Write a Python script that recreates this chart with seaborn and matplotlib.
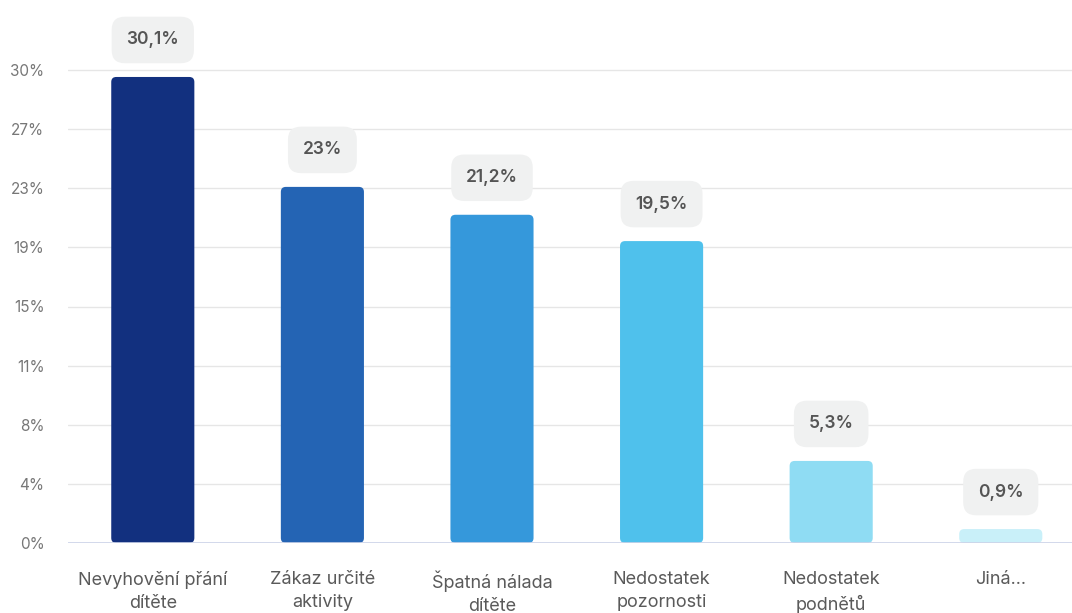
import matplotlib
matplotlib.use("Agg")
import matplotlib.pyplot as plt
import seaborn as sns
import pandas as pd
import numpy as np
from matplotlib.patches import FancyBboxPatch

categories = ["Nevyhovění přání\ndítěte", "Zákaz určité\naktivity", "Špatná nálada\ndítěte",
              "Nedostatek\npozornosti", "Nedostatek\npodnětů", "Jiná..."]
values = [30.1, 23.0, 21.2, 19.5, 5.3, 0.9]
value_labels = ["30,1%", "23%", "21,2%", "19,5%", "5,3%", "0,9%"]
y_ticklabels = ["0%", "4%", "8%", "11%", "15%", "19%", "23%", "27%", "30%"]
colors = ["#12307f", "#2464b4", "#3598db", "#4fc1ec", "#8fdcf3", "#c9f0f9"]

sns.set_theme(style="white")
plt.rcParams['font.family'] = ['Inter', 'DejaVu Sans']

fig = plt.figure(figsize=(10.72, 6.13), dpi=100)
W, H = 1072, 613
ax = fig.add_axes([68 / W, (613 - 543) / H, (1072 - 68) / W, (543 - 5) / H])

df = pd.DataFrame({"cat": categories, "val": values})
sns.barplot(data=df, x="cat", y="val", hue="cat", palette=colors, legend=False,
            width=0.49, ax=ax, saturation=1, zorder=3)

axis_max = 30.55
ymax = axis_max * (543 - 5) / (543 - 70)
ax.set_ylim(0, ymax)
ax.set_xlim(-0.5, 5.42)

# replace bars with rounded versions using their own geometry
px_per_x = (1072 - 68) / (5.42 + 0.5)
px_per_y = (543 - 5) / ymax
aspect = px_per_x / px_per_y
for p in list(ax.patches):
    x, y, w, h = p.get_x(), p.get_y(), p.get_width(), p.get_height()
    fc = p.get_facecolor()
    p.remove()
    r = 5 / px_per_x
    fb = FancyBboxPatch((x, y), w, h, boxstyle=f"round,pad=0,rounding_size={r}",
                        mutation_aspect=aspect, facecolor=fc, edgecolor="none", zorder=3)
    ax.add_patch(fb)

ticks = [axis_max * k / 8 for k in range(9)]
ax.set_yticks(ticks)
ax.set_yticklabels(y_ticklabels)
ax.yaxis.grid(True, color="#e6e6e6", linewidth=1, zorder=0)
ax.axhline(0, color="#ccd3e8", linewidth=1.2, zorder=4)
for s in ax.spines.values():
    s.set_visible(False)
ax.tick_params(axis="y", length=0, pad=17, labelsize=11, labelcolor="#777777")
ax.set_xticks(range(len(categories)))
ax.set_xticklabels(categories, multialignment="center", linespacing=1.45,
                   fontsize=13, color="#5a5a5a")
ax.tick_params(axis="x", length=0, pad=20)
ax.set_xlabel("")
ax.set_ylabel("")

for i, (v, lab) in enumerate(zip(values, value_labels)):
    ax.annotate(lab, xy=(i, v), xytext=(0, 37), textcoords="offset pixels",
                ha="center", va="center", fontsize=12.5, fontweight="semibold", color="#555555",
                bbox=dict(boxstyle="round,pad=0.85,rounding_size=0.75", facecolor="#f0f1f1",
                          edgecolor="none"), zorder=5)

fig.savefig("out.png", dpi=100)
